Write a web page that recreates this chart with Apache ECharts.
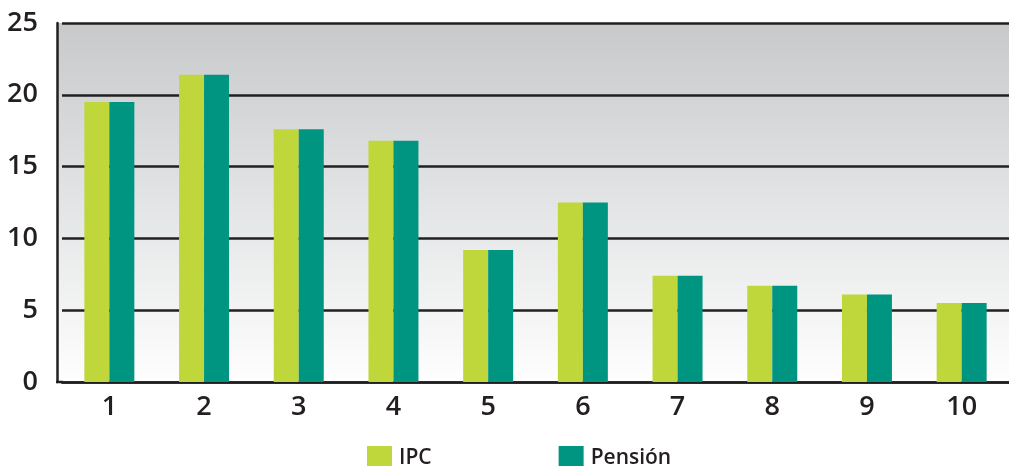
<!DOCTYPE html>
<html>
<head>
<meta charset="utf-8">
<style>
    html, body { margin: 0; padding: 0; background: #ffffff; }
    #chart { width: 1009px; height: 466px; }
</style>
<script src="https://cdn.jsdelivr.net/npm/echarts@6/dist/echarts.min.js"></script>
</head>
<body>
<div id="chart"></div>
<script>
// data
var categories = ['1', '2', '3', '4', '5', '6', '7', '8', '9', '10'];
var ipcValues = [19.5, 21.4, 17.6, 16.8, 9.2, 12.5, 7.4, 6.7, 6.1, 5.5];
var pensionValues = [19.5, 21.4, 17.6, 16.8, 9.2, 12.5, 7.4, 6.7, 6.1, 5.5];
var seriesNames = ['IPC', 'Pensión'];

var ink = '#231f20';

var chart = echarts.init(document.getElementById('chart'));
var option = {
    animation: false,
    textStyle: { fontFamily: 'Open Sans' },
    graphic: [
        {
            type: 'rect',
            z: -10,
            shape: { x: 57, y: 23, width: 952, height: 359 },
            style: {
                fill: new echarts.graphic.LinearGradient(0, 0, 0, 1, [
                    { offset: 0, color: '#c8c9cb' },
                    { offset: 0.5, color: '#e3e4e5' },
                    { offset: 1, color: '#fefefe' }
                ])
            }
        },
        {
            // close the corner where the shifted y axis meets the x axis
            type: 'line',
            z: 10,
            shape: { x1: 56, y1: 382, x2: 63, y2: 382 },
            style: { stroke: ink, lineWidth: 2.5 }
        }
    ],
    grid: {
        left: 62,
        right: 0,
        top: 23,
        bottom: 84
    },
    legend: {
        left: 362,
        top: 441,
        itemWidth: 25,
        itemHeight: 25,
        itemGap: 127,
        icon: 'rect',
        data: seriesNames,
        textStyle: {
            color: ink,
            fontSize: 21,
            fontWeight: 600,
            padding: [0, 0, 0, 2]
        }
    },
    xAxis: {
        type: 'category',
        data: categories,
        axisTick: { show: false },
        axisLine: { lineStyle: { color: ink, width: 2.5 } },
        axisLabel: {
            color: ink,
            fontSize: 27,
            fontWeight: 600,
            margin: 12
        }
    },
    yAxis: {
        type: 'value',
        min: 0,
        max: 25,
        interval: 5,
        offset: 5,
        axisTick: { show: false },
        axisLine: { show: true, lineStyle: { color: ink, width: 2.5 } },
        axisLabel: {
            color: ink,
            fontSize: 27,
            fontWeight: 600,
            margin: 19
        },
        splitLine: { lineStyle: { color: ink, width: 2.5 } }
    },
    series: [
        {
            name: seriesNames[0],
            type: 'bar',
            barWidth: 25,
            barGap: '0%',
            data: ipcValues,
            itemStyle: { color: '#bfd73b' }
        },
        {
            name: seriesNames[1],
            type: 'bar',
            barWidth: 25,
            barGap: '0%',
            data: pensionValues,
            itemStyle: { color: '#009581' }
        }
    ]
};
chart.setOption(option);
</script>
</body>
</html>
